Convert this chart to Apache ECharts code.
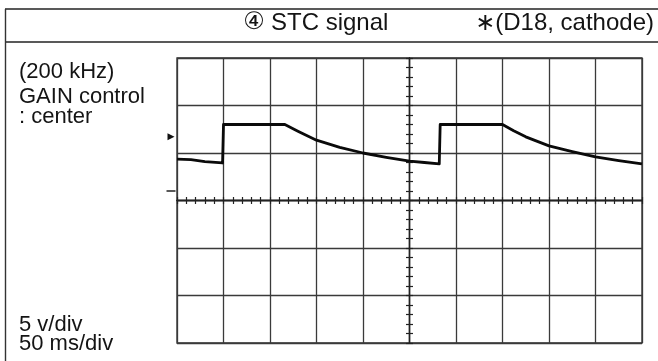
<!DOCTYPE html>
<html>
<head>
<meta charset="utf-8">
<style>
  html, body { margin: 0; padding: 0; background: #fff; }
  #chart { width: 658px; height: 361px; }
</style>
<script src="https://cdn.jsdelivr.net/npm/echarts@6/dist/echarts.min.js"></script>
</head>
<body>
<div id="chart"></div>
<script>
// STC waveform, time in ms from screen centre, level in volts from screen centre
const traceTime  = [-250, -235, -220, -201, -200, -134, -120, -100, -75, -50, -25, 0, 16, 32, 33, 100, 112, 125, 150, 175, 200, 225, 250];
const traceVolts = [4.35, 4.3, 4.1, 3.95, 8.0, 8.0, 7.3, 6.35, 5.6, 5.0, 4.55, 4.15, 4.0, 3.85, 8.0, 8.0, 7.35, 6.7, 5.75, 5.15, 4.6, 4.2, 3.85];

// channel reference markers at the left edge of the screen
const markerLevels = [6.7, 1.0];

// screen scale: 50 ms/div, 5 V/div
const timeRange = [-250, 250];
const timeDiv = 50;
const voltRange = [-15, 15];
const voltDiv = 5;

const headerTitle = 'STC signal';
const headerIndex = '\u2463';
const headerNote = '\u2217(D18, cathode)';
const sideNotes = ['(200 kHz)', 'GAIN control', ': center'];
const scaleNotes = ['5 v/div', '50 ms/div'];

const FONT = '"Liberation Sans", Arial, "DejaVu Sans", sans-serif';
const INK = '#141414';

const chart = echarts.init(document.getElementById('chart'), null, { renderer: 'canvas' });

function centreAxis(position, withGrid, min, max, interval) {
  return {
    type: 'value',
    min: min,
    max: max,
    interval: interval,
    position: position,
    axisLine: { show: true, onZero: true, lineStyle: { color: '#222', width: 1.3 } },
    axisTick: { show: true, length: 3.5, lineStyle: { color: '#222', width: 1.2 } },
    minorTick: { show: true, splitNumber: 5, length: 3.5, lineStyle: { color: '#222', width: 1.2 } },
    axisLabel: { show: false },
    splitLine: { show: withGrid, lineStyle: { color: '#3a3a3a', width: 1.3 } }
  };
}

const traceData = traceTime.map((t, i) => [t, traceVolts[i]]);

const option = {
  animation: false,
  backgroundColor: '#fff',
  grid: {
    left: 177, top: 58, width: 465, height: 285,
    show: true, borderColor: '#2a2a2a', borderWidth: 1.3, backgroundColor: 'transparent'
  },
  xAxis: [
    centreAxis('bottom', true, timeRange[0], timeRange[1], timeDiv),
    centreAxis('top', false, timeRange[0], timeRange[1], timeDiv)
  ],
  yAxis: [
    centreAxis('left', true, voltRange[0], voltRange[1], voltDiv),
    centreAxis('right', false, voltRange[0], voltRange[1], voltDiv)
  ],
  series: [
    {
      type: 'line',
      data: traceData,
      showSymbol: false,
      symbol: 'none',
      lineStyle: { color: '#0a0a0a', width: 2.8, join: 'round' },
      clip: false,
      markPoint: {
        silent: true,
        label: { show: false },
        data: [
          {
            coord: [timeRange[0], markerLevels[0]],
            symbol: 'triangle', symbolSize: [7, 7], symbolRotate: -90,
            symbolOffset: [-6, 0],
            itemStyle: { color: '#111' }
          },
          {
            coord: [timeRange[0], markerLevels[1]],
            symbol: 'rect', symbolSize: [9, 1.5],
            symbolOffset: [-6, 0],
            itemStyle: { color: '#222' }
          }
        ]
      }
    }
  ],
  graphic: [
    { type: 'line', shape: { x1: 5, y1: 9, x2: 658, y2: 9 }, style: { stroke: '#222', lineWidth: 1.6 } },
    { type: 'line', shape: { x1: 5, y1: 42, x2: 658, y2: 42 }, style: { stroke: '#222', lineWidth: 1.6 } },
    { type: 'line', shape: { x1: 5.5, y1: 9, x2: 5.5, y2: 361 }, style: { stroke: '#333', lineWidth: 1.4 } },
    { type: 'text', style: { text: headerIndex, x: 254, y: 23, font: '24px "DejaVu Sans", sans-serif', fill: INK, align: 'center', verticalAlign: 'middle' } },
    { type: 'text', style: { text: headerTitle, x: 271, y: 23, font: '24px ' + FONT, fill: INK, align: 'left', verticalAlign: 'middle' } },
    { type: 'text', style: { text: headerNote, x: 654, y: 23, font: '24px ' + FONT, fill: INK, align: 'right', verticalAlign: 'middle' } },
    { type: 'text', style: { text: sideNotes[0], x: 19, y: 72, font: '22px ' + FONT, fill: INK, verticalAlign: 'middle' } },
    { type: 'text', style: { text: sideNotes[1], x: 19, y: 97, font: '22px ' + FONT, fill: INK, verticalAlign: 'middle' } },
    { type: 'text', style: { text: sideNotes[2], x: 19, y: 117, font: '22px ' + FONT, fill: INK, verticalAlign: 'middle' } },
    { type: 'text', style: { text: scaleNotes[0], x: 19, y: 325, font: '22px ' + FONT, fill: INK, verticalAlign: 'middle' } },
    { type: 'text', style: { text: scaleNotes[1], x: 19, y: 344, font: '22px ' + FONT, fill: INK, verticalAlign: 'middle' } }
  ]
};

chart.setOption(option);
</script>
</body>
</html>
